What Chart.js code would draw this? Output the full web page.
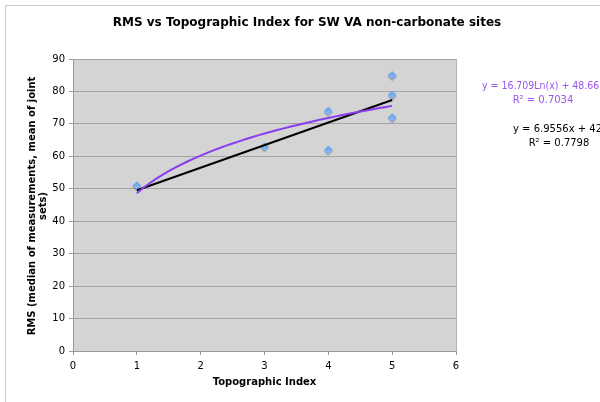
<!DOCTYPE html>
<html>
<head>
<meta charset="utf-8">
<script src="https://cdn.jsdelivr.net/npm/chart.js@4"></script>
<style>
  body { margin: 0; background: #fff; }
  canvas { display: block; }
</style>
</head>
<body>
<canvas id="myChart" width="600" height="402"></canvas>
<script>
// data
const topoIndex = [1, 3, 4, 4, 5, 5, 5];
const rmsValues = [51, 63, 74, 62, 85, 79, 72];

// trendlines as printed on the chart
const linSlope = 6.9556;
const linIntercept = 42.6;
const logCoef = 16.709;
const logIntercept = 48.66;
const trendFrom = 1;
const trendTo = 5;

const titleText = "RMS vs Topographic Index for SW VA non-carbonate sites";
const xTitle = "Topographic Index";
const yTitle = ["RMS (median of measurements, mean of joint", "sets)"];
const logLabel = ["y = 16.709Ln(x) + 48.66", "R\u00b2 = 0.7034"];
const linLabel = ["y = 6.9556x + 42.6", "R\u00b2 = 0.7798"];

const FONT = "'DejaVu Sans', Verdana, sans-serif";

const points = topoIndex.map((x, i) => ({ x, y: rmsValues[i] }));

const linLine = [trendFrom, trendTo].map((x) => ({ x, y: linSlope * x + linIntercept }));

const logLine = [];
for (let i = 0; i <= 40; i++) {
  const x = trendFrom + ((trendTo - trendFrom) * i) / 40;
  logLine.push({ x, y: logCoef * Math.log(x) + logIntercept });
}

// background, frame and the texts drawn by hand
const decor = {
  id: "decor",
  beforeDraw(chart) {
    const { ctx, chartArea: a } = chart;
    ctx.save();
    ctx.strokeStyle = "#c8c8c8";
    ctx.lineWidth = 1;
    ctx.strokeRect(5.5, 5.5, 700, 500);
    ctx.fillStyle = "#d4d4d4";
    ctx.fillRect(a.left, a.top, a.right - a.left, a.bottom - a.top);
    ctx.restore();
  },
  beforeDatasetsDraw(chart) {
    const { ctx, chartArea: a } = chart;
    ctx.save();
    ctx.strokeStyle = "#b4b4b4";
    ctx.lineWidth = 1;
    ctx.beginPath();
    ctx.moveTo(Math.round(a.right) + 0.5, a.top);
    ctx.lineTo(Math.round(a.right) + 0.5, a.bottom);
    ctx.stroke();
    ctx.restore();
  },
  // light grey shadow under the diamonds
  beforeDatasetDraw(chart, args) {
    if (args.index !== 2) return;
    const { ctx } = chart;
    ctx.save();
    ctx.shadowColor = "rgba(0,0,0,0.2)";
    ctx.shadowOffsetY = 1.5;
    ctx.shadowBlur = 1;
  },
  afterDatasetDraw(chart, args) {
    if (args.index !== 2) return;
    chart.ctx.restore();
  },
  afterDraw(chart) {
    const { ctx } = chart;
    ctx.save();
    ctx.fillStyle = "#000";
    ctx.textAlign = "center";
    ctx.textBaseline = "middle";
    ctx.font = "bold 12px " + FONT;
    ctx.fillText(titleText, 307, 23);

    ctx.font = "bold 10px " + FONT;
    ctx.fillText(xTitle, 264.5, 382);

    ctx.save();
    ctx.translate(32, 206);
    ctx.rotate(-Math.PI / 2);
    ctx.fillText(yTitle[0], 0, 0);
    ctx.fillText(yTitle[1], 0, 11);
    ctx.restore();

    ctx.fillStyle = "#9a55f0";
    ctx.font = "10px " + FONT;
    ctx.textAlign = "left";
    ctx.save();
    ctx.translate(482, 86);
    ctx.scale(0.94, 1);
    ctx.fillText(logLabel[0], 0, 0);
    ctx.restore();
    ctx.textAlign = "center";
    ctx.fillText(logLabel[1], 543, 100);

    ctx.fillStyle = "#000";
    ctx.textAlign = "left";
    ctx.fillText(linLabel[0], 513, 129);
    ctx.textAlign = "center";
    ctx.fillText(linLabel[1], 559, 143);
    ctx.restore();
  },
};

const ctx = document.getElementById("myChart");

const grafico = new Chart(ctx, {
  type: "scatter",
  data: {
    datasets: [
      {
        label: "log",
        type: "line",
        data: logLine,
        borderColor: "#8a3cf0",
        borderWidth: 2,
        pointRadius: 0,
        tension: 0,
        order: 0,
      },
      {
        label: "linear",
        type: "line",
        data: linLine,
        borderColor: "#000",
        borderWidth: 2,
        pointRadius: 0,
        order: 1,
      },
      {
        label: "RMS",
        data: points,
        pointStyle: "rectRot",
        pointRadius: 4,
        backgroundColor: "#7db4f7",
        borderColor: "#7db4f7",
        borderWidth: 1,
        order: 2,
      },
    ],
  },
  options: {
    responsive: false,
    devicePixelRatio: 1,
    animation: false,
    layout: {
      padding: { left: 0, top: 59, right: 144, bottom: 0 },
    },
    plugins: {
      legend: { display: false },
      tooltip: { enabled: false },
    },
    scales: {
      x: {
        type: "linear",
        min: 0,
        max: 6,
        ticks: {
          stepSize: 1,
          padding: 5,
          color: "#000",
          font: { family: FONT, size: 10 },
        },
        grid: {
          drawOnChartArea: false,
          tickLength: 4,
          tickColor: "#999",
        },
        border: { color: "#999" },
        afterFit: (scale) => {
          scale.height = 51;
        },
      },
      y: {
        min: 0,
        max: 90,
        ticks: {
          stepSize: 10,
          padding: 4,
          color: "#000",
          font: { family: FONT, size: 10 },
        },
        grid: {
          color: "#a4a4a4",
          tickLength: 4,
          tickColor: "#999",
        },
        border: { color: "#999" },
        afterFit: (scale) => {
          scale.width = 73;
        },
      },
    },
  },
  plugins: [decor],
});
</script>
</body>
</html>
